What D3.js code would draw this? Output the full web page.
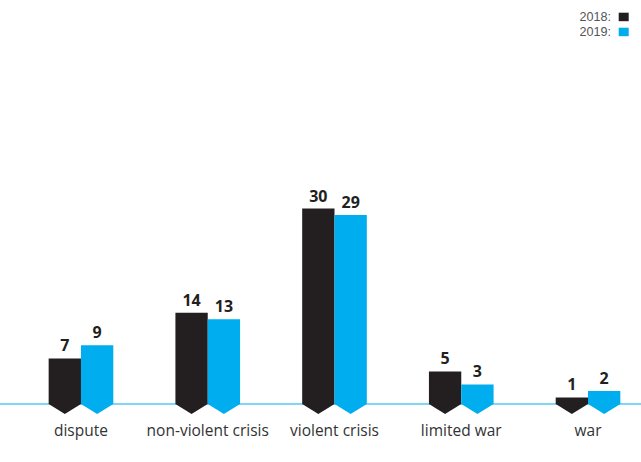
<!DOCTYPE html>
<html><head><meta charset="utf-8">
<script src="https://cdn.jsdelivr.net/npm/d3@7"></script>
<style>body{margin:0;background:#fff}svg{display:block}</style>
</head><body>
<svg id="c" width="641" height="462"></svg>
<script>
const categories = ["dispute", "non-violent crisis", "violent crisis", "limited war", "war"];
const seriesNames = ["2018", "2019"];
const values2018 = [7, 14, 30, 5, 1];
const values2019 = [9, 13, 29, 3, 2];
const colors = ["#231f20", "#00aeef"];

const W = 641, H = 462;
const base = 404, tip = 10;
const svg = d3.select("#c");
const font = "'Open Sans', sans-serif";

const x = d3.scaleBand().domain(categories).range([17.6, 651.4]).paddingInner(0.49).paddingOuter(0.245);
const xs = d3.scaleBand().domain(seriesNames).range([0, x.bandwidth()]);
const y = d3.scaleLinear().domain([0, 30]).range([base, 208.5]);

svg.append("line").attr("x1", 0).attr("x2", W).attr("y1", base).attr("y2", base)
  .attr("stroke", "#00aeef").attr("stroke-width", 1.2);

const data = [];
categories.forEach((c, i) => {
  data.push({c, s: "2018", v: values2018[i], col: colors[0]});
  data.push({c, s: "2019", v: values2019[i], col: colors[1]});
});

const g = svg.append("g");
g.selectAll("path.bar").data(data).join("path").attr("class", "bar")
  .attr("fill", d => d.col)
  .attr("d", d => {
    const x0 = x(d.c) + xs(d.s), x1 = x0 + xs.bandwidth(), cx = (x0 + x1) / 2;
    const t = y(d.v);
    return `M${x0},${t}H${x1}V${base}L${cx},${base + tip}L${x0},${base}Z`;
  });

g.selectAll("text.val").data(data).join("text").attr("class", "val")
  .attr("x", d => x(d.c) + xs(d.s) + xs.bandwidth() / 2)
  .attr("y", d => y(d.v) - 7)
  .attr("text-anchor", "middle")
  .attr("font-family", font).attr("font-weight", 700).attr("font-size", 16)
  .attr("fill", "#231f20")
  .text(d => d.v);

svg.selectAll("text.cat").data(categories).join("text").attr("class", "cat")
  .attr("x", d => x(d) + x.bandwidth() / 2)
  .attr("y", 436)
  .attr("text-anchor", "middle")
  .attr("font-family", font).attr("font-size", 15.5)
  .attr("fill", "#333")
  .text(d => d);

const leg = svg.append("g");
seriesNames.forEach((s, i) => {
  const yy = 12.7 + i * 15;
  leg.append("text").attr("x", 611).attr("y", yy + 8.6)
    .attr("text-anchor", "end").attr("font-family", "'Liberation Sans', Arial, sans-serif")
    .attr("font-size", 12.6).attr("fill", "#555").text(s + ":");
  leg.append("rect").attr("x", 618.7).attr("y", yy).attr("width", 10).attr("height", 8.5)
    .attr("fill", colors[i]);
});
</script>
</body></html>
